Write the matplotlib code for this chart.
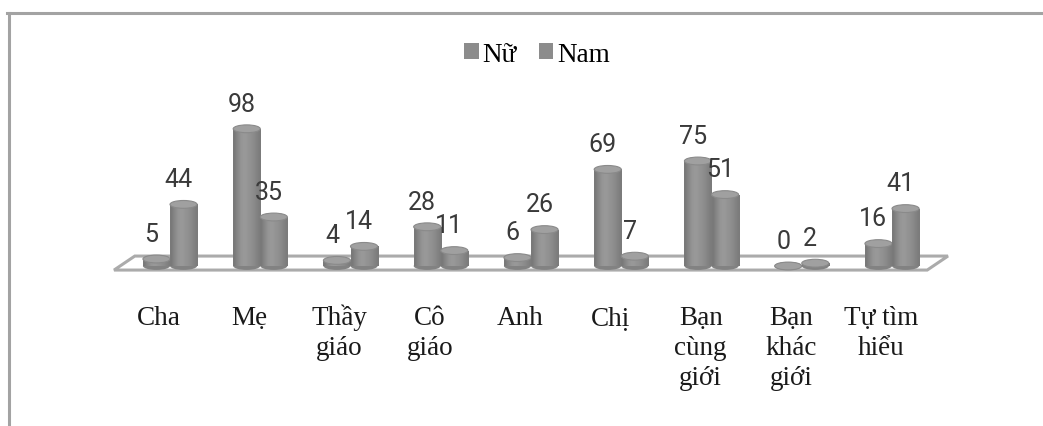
import numpy as np
import matplotlib
matplotlib.use("Agg")
import matplotlib.pyplot as plt
from matplotlib.patches import Rectangle, Ellipse, Polygon, Patch
from matplotlib.lines import Line2D

categories = ["Cha", "Mẹ", "Thầy\ngiáo", "Cô\ngiáo", "Anh", "Chị",
              "Bạn\ncùng\ngiới", "Bạn\nkhác\ngiới", "Tự tìm\nhiểu"]
nu = [5, 98, 4, 28, 6, 69, 75, 0, 16]
nam = [44, 35, 14, 11, 26, 7, 51, 2, 41]
series_names = ["Nữ", "Nam"]

W, H = 1043, 427
X0, STEP = 170.0, 90.25      # pixel centre of first group, group spacing
Y0, SCALE = 267.0, 1.4       # pixel of the base, pixels per unit

fig = plt.figure(figsize=(W / 100, H / 100), dpi=100)
ax = fig.add_axes([0, 0, 1, 1])
ax.set_xlim(-X0 / STEP, (W - X0) / STEP)
ax.set_ylim((Y0 - H) / SCALE, Y0 / SCALE)
ax.axis("off")

# frame lines at top and left
fig.add_artist(Line2D([7 / W, 1], [1 - 13.5 / H, 1 - 13.5 / H], color="#a3a3a3", lw=2.2))
fig.add_artist(Line2D([8.5 / W, 8.5 / W], [0, 1 - 13.5 / H], color="#a3a3a3", lw=2.2))

n = len(categories)
# floor of the 3D chart
floor = Polygon([(-0.62, -2.9), (n - 1 + 0.39, -2.9), (n - 1 + 0.62, 7.1), (-0.39, 7.1)],
                closed=True, facecolor="white", edgecolor="#ababab", lw=2.2, zorder=1)
ax.add_patch(floor)

bw = 0.30
eh = 5.6  # ellipse height in data units
grad = np.array([[0.47, 0.53, 0.58, 0.60, 0.59, 0.57, 0.55, 0.52, 0.48]])
cmap = plt.get_cmap("gray")


def cylinder(xc, v, z):
    left = xc - bw / 2
    bottom = Ellipse((xc, 0), bw, eh, facecolor="#828282", edgecolor="none", zorder=z)
    ax.add_patch(bottom)
    if v > 0:
        im = ax.imshow(grad, cmap=cmap, vmin=0, vmax=1, extent=(left, left + bw, -eh / 2, v),
                       aspect="auto", interpolation="bicubic", zorder=z)
        clip = Rectangle((left, 0), bw, v, transform=ax.transData)
        im.set_clip_path(clip)
    top = Ellipse((xc, v), bw, eh, facecolor="#a0a0a0", edgecolor="#8a8a8a", lw=0.8, zorder=z + 0.1)
    ax.add_patch(top)


x = np.arange(n)
for i in range(n):
    for j, vals in enumerate([nu, nam]):
        xc = x[i] + (j - 0.5) * bw
        cylinder(xc, vals[i], 3 + j)
        ax.text(xc - 0.055, vals[i] + 13, str(vals[i]), ha="center", va="baseline",
                fontsize=18, family="Roboto", color="#3a3a3a", zorder=10)

# category labels, one line at a time
pitch = 30 / SCALE
for i, lab in enumerate(categories):
    for k, line in enumerate(lab.split("\n")):
        ax.text(x[i] - 0.12, -58 / SCALE - k * pitch, line, ha="center", va="baseline",
                fontsize=19.5, family="Liberation Serif", color="#1a1a1a")

handles = [Patch(facecolor="#8c8c8c", edgecolor="none") for _ in series_names]
fig.legend(handles, series_names, loc="center", bbox_to_anchor=(537 / W, 1 - 55 / H),
           ncol=2, frameon=False, handlelength=0.55, handleheight=0.55, handletextpad=0.15,
           columnspacing=0.8, prop={"family": "Liberation Serif", "size": 19.5})

fig.savefig("out.png", dpi=100, facecolor="white")
